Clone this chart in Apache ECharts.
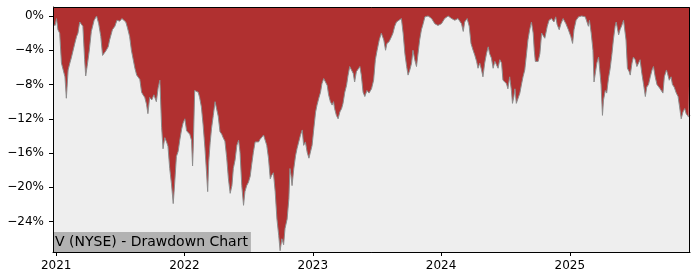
<!DOCTYPE html>
<html><head><meta charset="utf-8">
<script src="https://cdn.jsdelivr.net/npm/echarts@6/dist/echarts.min.js"></script>
<style>html,body{margin:0;padding:0;background:#fff}#c{width:700px;height:280px}</style>
</head><body><div id="c"></div>
<script>
const dates = [
'2020-12-23','2020-12-29','2021-01-02','2021-01-06','2021-01-11','2021-01-16','2021-01-21','2021-01-26','2021-01-30',
'2021-02-04','2021-02-09','2021-02-13','2021-02-18','2021-02-23','2021-02-28','2021-03-04','2021-03-09','2021-03-14',
'2021-03-18','2021-03-23','2021-03-26','2021-03-30','2021-04-05','2021-04-11','2021-04-19','2021-04-26','2021-05-02',
'2021-05-08','2021-05-13','2021-05-16','2021-05-22','2021-05-29','2021-06-02','2021-06-10','2021-06-17','2021-06-23',
'2021-07-01','2021-07-07','2021-07-12','2021-07-18','2021-07-23','2021-07-29','2021-08-03','2021-08-08','2021-08-13',
'2021-08-18','2021-08-21','2021-08-27','2021-09-01','2021-09-05','2021-09-10','2021-09-15','2021-09-19','2021-09-24',
'2021-09-30','2021-10-06','2021-10-13','2021-10-18','2021-10-23','2021-10-28','2021-11-01','2021-11-06','2021-11-11',
'2021-11-15','2021-11-20','2021-11-25','2021-11-30','2021-12-04','2021-12-09','2021-12-14','2021-12-19','2021-12-24',
'2021-12-28','2022-01-02','2022-01-07','2022-01-11','2022-01-16','2022-01-21','2022-01-24','2022-01-26','2022-01-30',
'2022-02-04','2022-02-09','2022-02-13','2022-02-18','2022-02-23','2022-02-28','2022-03-04','2022-03-08','2022-03-11',
'2022-03-15','2022-03-19','2022-03-24','2022-03-29','2022-04-03','2022-04-07','2022-04-12','2022-04-17','2022-04-22',
'2022-04-26','2022-05-01','2022-05-06','2022-05-11','2022-05-16','2022-05-20','2022-05-25','2022-05-30','2022-06-04',
'2022-06-08','2022-06-13','2022-06-18','2022-06-22','2022-06-27','2022-07-02','2022-07-07','2022-07-11','2022-07-16',
'2022-07-21','2022-07-26','2022-07-31','2022-08-04','2022-08-09','2022-08-14','2022-08-18','2022-08-23','2022-08-28',
'2022-09-02','2022-09-06','2022-09-11','2022-09-16','2022-09-21','2022-09-26','2022-09-30','2022-10-05','2022-10-10',
'2022-10-14','2022-10-20','2022-10-25','2022-10-28','2022-10-31','2022-11-03','2022-11-08','2022-11-13','2022-11-17',
'2022-11-22','2022-11-27','2022-12-02','2022-12-06','2022-12-11','2022-12-16','2022-12-21','2022-12-26','2022-12-30',
'2023-01-04','2023-01-09','2023-01-13','2023-01-18','2023-01-23','2023-01-27','2023-02-01','2023-02-06','2023-02-11',
'2023-02-15','2023-02-20','2023-02-25','2023-03-01','2023-03-04','2023-03-09','2023-03-14','2023-03-19','2023-03-24',
'2023-03-28','2023-04-02','2023-04-07','2023-04-11','2023-04-16','2023-04-21','2023-04-26','2023-04-30','2023-05-05',
'2023-05-10','2023-05-15','2023-05-19','2023-05-24','2023-05-29','2023-06-04','2023-06-10','2023-06-17','2023-06-23',
'2023-06-28','2023-07-03','2023-07-09','2023-07-15','2023-07-22','2023-07-27','2023-07-31','2023-08-06','2023-08-13',
'2023-08-17','2023-08-22','2023-08-27','2023-09-03','2023-09-10','2023-09-15','2023-09-20','2023-09-25','2023-09-29',
'2023-10-04','2023-10-09','2023-10-13','2023-10-18','2023-10-23','2023-10-28','2023-11-01','2023-11-06','2023-11-11',
'2023-11-16','2023-11-25','2023-12-05','2023-12-14','2023-12-23',
'2024-01-02','2024-01-11','2024-01-21','2024-01-31','2024-02-09','2024-02-18','2024-02-23','2024-02-28','2024-03-04',
'2024-03-08','2024-03-15','2024-03-21','2024-03-26','2024-04-01','2024-04-06','2024-04-11','2024-04-15','2024-04-20',
'2024-04-25','2024-04-29','2024-05-04','2024-05-09','2024-05-14','2024-05-18','2024-05-23','2024-05-28','2024-06-02',
'2024-06-06','2024-06-11','2024-06-16','2024-06-21','2024-06-25','2024-06-30','2024-07-05','2024-07-09','2024-07-14',
'2024-07-19','2024-07-22','2024-07-26','2024-07-29','2024-08-02','2024-08-07','2024-08-12','2024-08-17','2024-08-21',
'2024-08-26','2024-08-31','2024-09-04','2024-09-09','2024-09-14','2024-09-19','2024-09-22','2024-09-25','2024-09-29',
'2024-10-03','2024-10-08','2024-10-13','2024-10-17','2024-10-22','2024-10-26','2024-10-29','2024-11-03','2024-11-10',
'2024-11-17','2024-11-22','2024-11-26','2024-12-02','2024-12-07','2024-12-13','2024-12-21','2024-12-28',
'2025-01-04','2025-01-09','2025-01-13','2025-01-19','2025-01-26','2025-02-04','2025-02-14','2025-02-19','2025-02-23',
'2025-02-26','2025-03-03','2025-03-08','2025-03-11','2025-03-15','2025-03-19','2025-03-24','2025-03-28','2025-03-31',
'2025-04-04','2025-04-07','2025-04-12','2025-04-16','2025-04-21','2025-04-26','2025-05-01','2025-05-05','2025-05-10',
'2025-05-13','2025-05-17','2025-05-20','2025-05-24','2025-05-29','2025-06-03','2025-06-08','2025-06-10','2025-06-14',
'2025-06-19','2025-06-22','2025-06-27','2025-07-01','2025-07-06','2025-07-11','2025-07-16','2025-07-20','2025-07-25',
'2025-07-30','2025-08-04','2025-08-08','2025-08-13','2025-08-18','2025-08-23','2025-08-27','2025-09-01','2025-09-06',
'2025-09-10','2025-09-15','2025-09-20','2025-09-23','2025-09-27','2025-10-03','2025-10-06','2025-10-11','2025-10-16',
'2025-10-20','2025-10-25','2025-10-31','2025-11-05','2025-11-09','2025-11-14','2025-11-19','2025-11-24','2025-11-28',
'2025-12-05','2025-12-09'
];
const drawdown = [
-1.0,-1.1,-0.3,-1.6,-2.0,-5.5,-6.3,-7.1,-9.6,
-6.3,-5.5,-4.9,-4.8,-3.2,-2.4,-2.0,-0.7,-0.5,
-1.2,-5.1,-7.0,-5.9,-4.1,-1.8,-0.5,0,-0.9,
-2.4,-4.6,-4.4,-4.1,-3.6,-2.8,-1.6,-1.2,-0.5,
-0.6,-0.3,-0.2,-0.7,-1.4,-2.4,-4.0,-4.2,-6.1,
-6.9,-7.1,-7.4,-8.9,-9.2,-9.5,-10.3,-11.4,-9.5,
-9.8,-9.2,-10.0,-8.4,-7.5,-13.0,-15.5,-14.2,-14.7,
-15.2,-17.8,-19.6,-21.9,-19.6,-16.4,-15.8,-14.4,-13.2,
-12.5,-12.0,-13.4,-13.6,-13.8,-14.5,-17.5,-15.3,-8.7,
-8.5,-8.9,-9.5,-10.6,-12.7,-15.3,-17.8,-20.5,-17.0,
-14.8,-13.1,-11.6,-10.0,-9.9,-11.7,-13.5,-13.8,-14.3,
-14.6,-16.5,-19.0,-20.7,-19.8,-17.8,-16.8,-15.1,-14.5,
-15.9,-19.8,-22.1,-20.5,-19.8,-19.4,-18.7,-17.4,-15.9,
-14.7,-14.6,-14.7,-14.4,-14.6,-13.9,-13.7,-15.1,-16.6,
-19.0,-18.6,-18.3,-20.5,-23.7,-25.6,-27.4,-26.0,-26.7,
-24.8,-23.7,-21.3,-17.8,-18.6,-19.8,-17.8,-16.3,-15.5,
-14.7,-13.9,-13.3,-15.1,-14.7,-15.9,-16.6,-16.8,-15.1,
-13.1,-11.2,-10.4,-9.6,-8.9,-7.9,-7.3,-7.5,-8.1,
-9.2,-10.0,-10.4,-10.0,-10.8,-11.6,-12.0,-11.2,-10.8,
-10.2,-8.9,-8.1,-7.0,-5.9,-5.7,-6.7,-7.7,-6.5,
-6.2,-5.9,-6.9,-8.9,-9.4,-8.7,-9.0,-8.5,-7.5,
-5.1,-4.0,-2.8,-2.0,-2.8,-4.0,-3.2,-3.0,-2.4,
-2.0,-1.2,-0.7,-0.5,-0.3,-2.0,-4.4,-5.9,-6.9,
-6.3,-5.5,-4.0,-5.1,-5.9,-6.1,-2.8,-1.6,-0.9,
-0.1,0,-0.3,-0.9,-1.1,
-0.9,-0.3,0,-0.3,-0.5,-0.3,-0.1,-0.9,-1.8,
-0.7,-0.3,-1.2,-3.2,-4.0,-4.6,-5.3,-6.1,-5.5,
-6.3,-7.1,-5.5,-4.4,-3.6,-4.4,-4.9,-6.1,-5.3,
-5.5,-6.1,-5.1,-5.5,-7.5,-7.3,-7.9,-8.5,-7.1,
-8.7,-10.2,-9.4,-8.5,-10.2,-10.2,-9.0,-7.9,-7.1,
-6.3,-4.4,-2.8,-1.6,-0.7,-2.0,-4.0,-5.3,-5.1,
-5.3,-4.4,-2.0,-1.9,-2.6,-2.4,-1.2,-0.5,-0.3,
-0.7,-0.1,-1.0,-1.6,-0.9,-0.3,-0.9,-1.6,
-2.4,-3.2,-1.6,-0.5,-0.1,0,-0.1,-0.7,-1.2,
-0.5,-2.0,-4.0,-7.7,-7.5,-5.5,-4.8,-4.6,-8.0,
-11.6,-9.8,-8.7,-9.0,-7.3,-6.1,-4.4,-2.8,-1.2,
-0.7,-0.9,-2.2,-1.6,-1.1,-0.5,-0.3,-2.8,-6.1,
-6.5,-6.9,-5.5,-4.8,-5.1,-5.9,-5.7,-5.1,-6.7,
-8.0,-9.4,-8.3,-8.0,-7.1,-6.3,-5.9,-7.1,-8.0,
-8.2,-8.5,-8.3,-9.0,-7.1,-6.3,-6.7,-7.5,-7.1,
-8.0,-8.3,-9.0,-9.4,-10.5,-12.0,-11.2,-10.8,-11.4,
-11.8,-11.6
];
const yTicks = [0, -4, -8, -12, -16, -20, -24];
const xTicks = ['2021', '2022', '2023', '2024', '2025'];
const titleText = 'V (NYSE) - Drawdown Chart';

const chart = echarts.init(document.getElementById('c'), null, {renderer: 'canvas'});
const ts = s => echarts.time.parse(s).getTime();
const seriesData = dates.map((d, i) => [ts(d), drawdown[i]]);
const xTickVals = xTicks.map(y => ts(y + '-01-01'));
const font = 'DejaVu Sans';

chart.setOption({
  animation: false,
  backgroundColor: '#ffffff',
  textStyle: {fontFamily: font},
  grid: {left: 53, right: 10, top: 7, bottom: 28, show: true, backgroundColor: '#eeeeee', borderWidth: 0},
  title: {
    text: titleText, left: 53, bottom: 28,
    padding: [3, 3, 2, 2], backgroundColor: '#b2b2b2', z: 10,
    textStyle: {fontFamily: font, fontSize: 14, fontWeight: 'normal', color: '#000', lineHeight: 15}
  },
  xAxis: {
    type: 'value', min: ts(dates[0]), max: ts(dates[dates.length - 1]),
    axisLine: {show: true, onZero: false, lineStyle: {color: '#000', width: 1}},
    axisTick: {show: true, length: 4, lineStyle: {color: '#000'}, customValues: xTickVals},
    axisLabel: {color: '#000', fontSize: 12, fontFamily: font, margin: 8, customValues: xTickVals,
      formatter: v => String(new Date(v).getFullYear())},
    splitLine: {show: false}
  },
  yAxis: {
    type: 'value', min: -27.55, max: 1.05,
    axisLine: {show: true, onZero: false, lineStyle: {color: '#000', width: 1}},
    axisTick: {show: true, length: 4, lineStyle: {color: '#000'}, customValues: yTicks},
    axisLabel: {color: '#000', fontSize: 12, fontFamily: font, margin: 9, customValues: yTicks,
      formatter: v => (v < 0 ? '\u2212' : '') + Math.abs(Math.round(v)) + '%'},
    splitLine: {show: false}
  },
  series: [{
    type: 'line', data: seriesData, showSymbol: false, z: 2,
    lineStyle: {color: '#8c8c8c', width: 1},
    areaStyle: {color: '#b03030', opacity: 1, origin: 'end'}
  }],
  graphic: [{
    type: 'rect', z: 100, silent: true,
    shape: {x: 53.5, y: 7.5, width: 636, height: 245},
    style: {fill: null, stroke: '#000', lineWidth: 1}
  }]
});
</script></body></html>
